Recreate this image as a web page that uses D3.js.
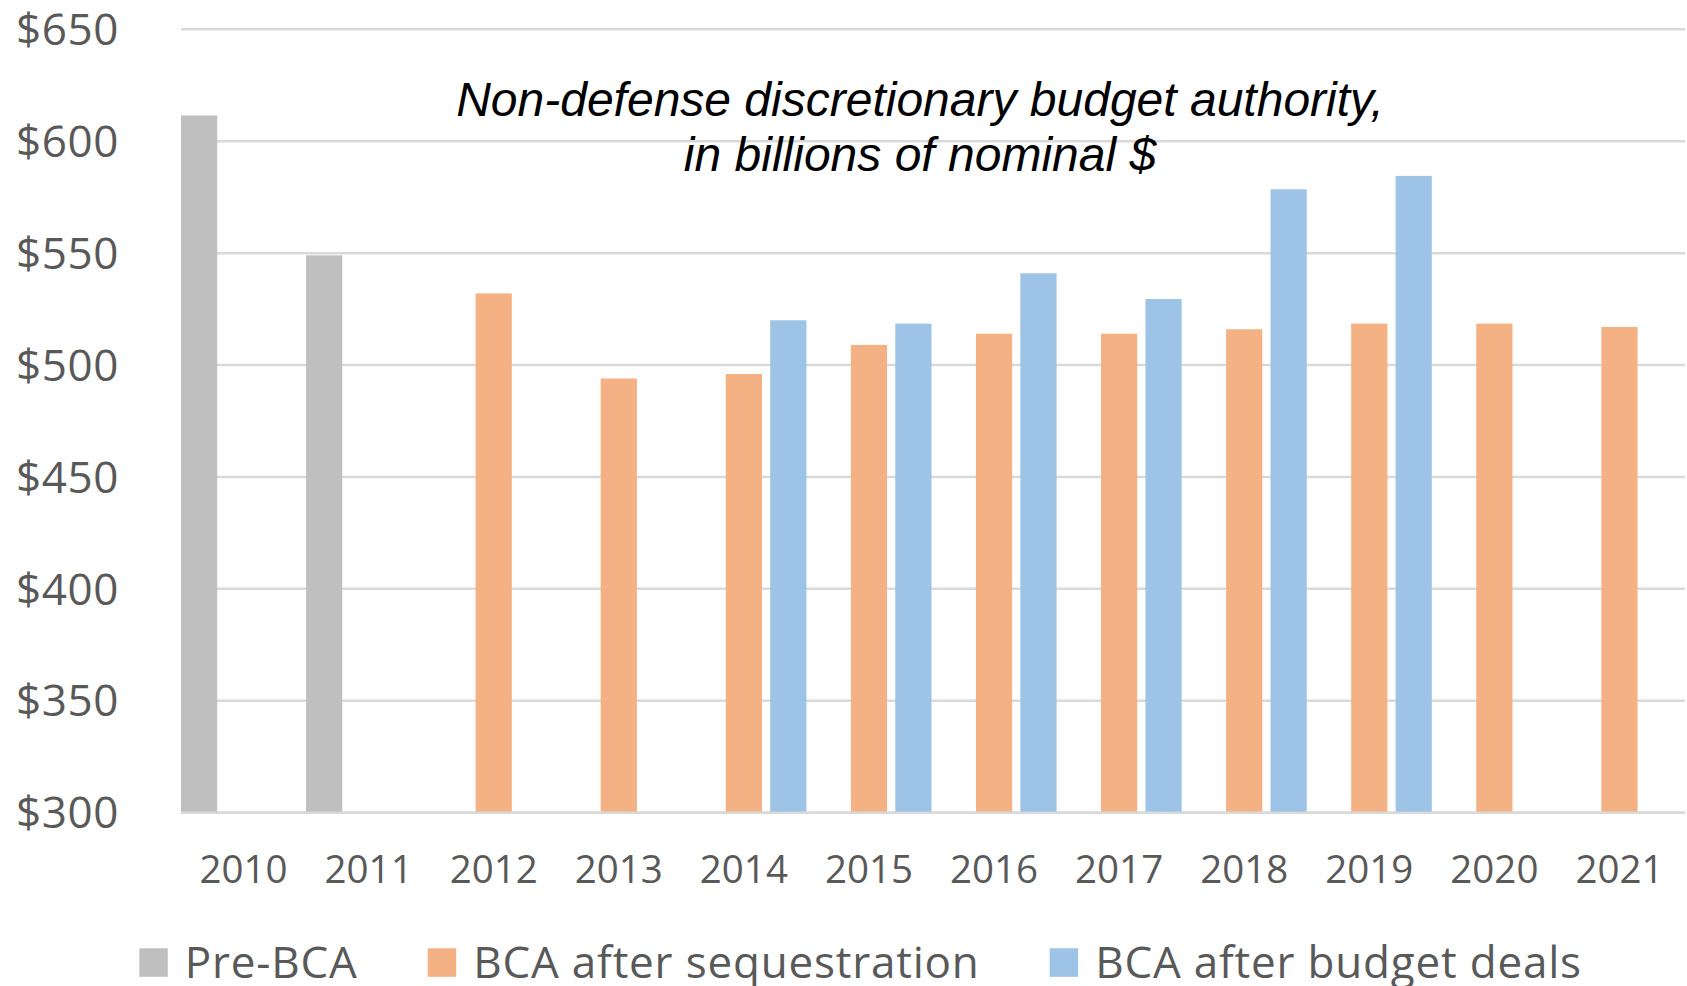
<!DOCTYPE html>
<html>
<head>
<meta charset="utf-8">
<script src="https://cdn.jsdelivr.net/npm/d3@7/dist/d3.min.js"></script>
<style>
  html, body { margin: 0; padding: 0; background: #ffffff; }
  svg { display: block; }
</style>
</head>
<body>
<svg id="chart" width="1687" height="986"></svg>
<script>
// ---- data ----
const years = ["2010","2011","2012","2013","2014","2015","2016","2017","2018","2019","2020","2021"];
const seriesNames = ["Pre-BCA", "BCA after sequestration", "BCA after budget deals"];
const preBCA = [611.5, 549, null, null, null, null, null, null, null, null, null, null];
const afterSequestration = [null, null, 532, 494, 496, 509, 514, 514, 516, 518.5, 518.5, 517];
const afterBudgetDeals = [null, null, null, null, 520, 518.5, 541, 529.5, 578.5, 584.5, null, null];
const yTicks = [300, 350, 400, 450, 500, 550, 600, 650];
const titleLines = ["Non-defense discretionary budget authority,", "in billions of nominal $"];

const seriesValues = [preBCA, afterSequestration, afterBudgetDeals];
const colors = ["#bfbfbf", "#f4b183", "#9dc3e6"];

const svg = d3.select("#chart");
const plotLeft = 181, plotRight = 1682, gridRight = 1685;

const y = d3.scaleLinear().domain([300, 650]).range([812.7, 29.3]);
const x0 = d3.scaleBand().domain(years).range([plotLeft, plotRight]).paddingInner(0).paddingOuter(0);
const x1 = d3.scaleBand().domain(seriesNames).range([0, x0.bandwidth()]).paddingInner(0.185).paddingOuter(0);

// gridlines
svg.append("g").selectAll("line").data(yTicks).join("line")
  .attr("x1", plotLeft).attr("x2", gridRight)
  .attr("y1", d => y(d)).attr("y2", d => y(d))
  .attr("stroke", "#d9d9d9").attr("stroke-width", 2.5);

// y labels
svg.append("g").selectAll("text").data(yTicks).join("text")
  .attr("x", 119).attr("y", d => y(d) + 15.7)
  .attr("text-anchor", "end")
  .attr("font-family", "'Open Sans', 'Noto Sans', sans-serif")
  .attr("font-size", 44).attr("fill", "#595959")
  .attr("letter-spacing", 0.6)
  .text(d => "$" + d);

// bars
const barData = [];
seriesValues.forEach((vals, si) => {
  vals.forEach((v, i) => {
    if (v != null) barData.push({ year: years[i], series: seriesNames[si], value: v, color: colors[si] });
  });
});
svg.append("g").selectAll("rect").data(barData).join("rect")
  .attr("x", d => x0(d.year) + x1(d.series))
  .attr("width", x1.bandwidth())
  .attr("y", d => y(d.value))
  .attr("height", d => y(300) - y(d.value))
  .attr("fill", d => d.color);

// baseline
svg.append("line")
  .attr("x1", plotLeft).attr("x2", gridRight)
  .attr("y1", y(300)).attr("y2", y(300))
  .attr("stroke", "#d9d9d9").attr("stroke-width", 2.5);

// x labels
svg.append("g").selectAll("text").data(years).join("text")
  .attr("x", d => x0(d) + x0.bandwidth() / 2)
  .attr("y", 883)
  .attr("text-anchor", "middle")
  .attr("font-family", "'Open Sans', 'Noto Sans', sans-serif")
  .attr("font-size", 38.5).attr("fill", "#595959")
  .text(d => d);

// title
svg.append("g").selectAll("text").data(titleLines).join("text")
  .attr("x", 920)
  .attr("y", (d, i) => 115.5 + i * 55)
  .attr("text-anchor", "middle")
  .attr("font-family", "'Liberation Sans', Arial, sans-serif")
  .attr("font-style", "italic")
  .attr("font-size", 48).attr("fill", "#000000")
  .text(d => d);

// legend
const legend = svg.append("g");
let lx = 139.3;
seriesNames.forEach((name, i) => {
  legend.append("rect")
    .attr("x", lx).attr("y", 948.3)
    .attr("width", 28.5).attr("height", 28.5)
    .attr("fill", colors[i]);
  const t = legend.append("text")
    .attr("x", lx + 28.5 + 17).attr("y", 977.5)
    .attr("font-family", "'Open Sans', 'Noto Sans', sans-serif")
    .attr("font-size", 44).attr("fill", "#595959")
    .attr("letter-spacing", 0.8)
    .text(name);
  lx = lx + 28.5 + 17 + t.node().getComputedTextLength() + 70;
});
</script>
</body>
</html>
